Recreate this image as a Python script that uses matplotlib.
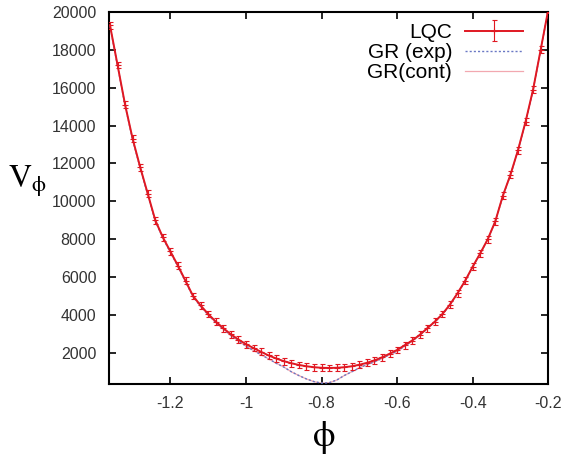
import matplotlib
matplotlib.use("Agg")
import matplotlib.pyplot as plt
import numpy as np

plt.rcParams["font.family"] = ["Liberation Sans", "DejaVu Sans"]
plt.rcParams["mathtext.fontset"] = "stix"

# phi grid (step 0.02) and potential values
phi = [-1.36, -1.34, -1.32, -1.30, -1.28, -1.26, -1.24, -1.22, -1.20, -1.18,
       -1.16, -1.14, -1.12, -1.10, -1.08, -1.06, -1.04, -1.02, -1.00, -0.98,
       -0.96, -0.94, -0.92, -0.90, -0.88, -0.86, -0.84, -0.82, -0.80, -0.78,
       -0.76, -0.74, -0.72, -0.70, -0.68, -0.66, -0.64, -0.62, -0.60, -0.58,
       -0.56, -0.54, -0.52, -0.50, -0.48, -0.46, -0.44, -0.42, -0.40, -0.38,
       -0.36, -0.34, -0.32, -0.30, -0.28, -0.26, -0.24, -0.22, -0.20]

V_lqc = [19300, 17200, 15100, 13300, 11800, 10400, 9000, 8100, 7350, 6600,
         5800, 5000, 4500, 4050, 3650, 3300, 2980, 2700, 2460, 2250,
         2050, 1860, 1700, 1560, 1450, 1360, 1290, 1240, 1210, 1200,
         1210, 1240, 1290, 1370, 1470, 1600, 1760, 1950, 2150, 2400,
         2650, 2950, 3300, 3650, 4050, 4550, 5150, 5800, 6550, 7250,
         8000, 8950, 10300, 11400, 12700, 14200, 15900, 18000, 20100]

V_gr = [19250, 17150, 15050, 13250, 11750, 10350, 8950, 8050, 7300, 6550,
        5750, 4950, 4450, 4000, 3600, 3250, 2920, 2630, 2350, 2120,
        1900, 1680, 1450, 1250, 1000, 800, 620, 480, 400, 420,
        560, 800, 1000, 1200, 1380, 1520, 1700, 1900, 2080, 2350,
        2620, 2930, 3280, 3630, 4030, 4530, 5130, 5780, 6530, 7230,
        7980, 8930, 10280, 11380, 12680, 14180, 15880, 17980, 20080]

err = 180

fig = plt.figure(figsize=(5.64, 4.57), dpi=100)
ax = fig.add_axes([0.193, 0.160, 0.779, 0.814])

ax.plot(phi, V_gr, color="#f2a8b0", lw=0.9, label="GR(cont)", zorder=2)
ax.plot(phi, V_gr, color="#6a78c4", lw=1.0, ls=(0, (1.5, 1.5)), label="GR (exp)", zorder=3)
ax.errorbar(phi, V_lqc, yerr=err, color="#e01822", lw=1.4, elinewidth=0.8,
            capsize=1.8, capthick=0.8, marker="+", ms=5, mew=0.8,
            label="LQC", zorder=4)

ax.set_xlim(-1.363, -0.2)
ax.set_ylim(360, 20000)
ax.set_xticks([-1.2, -1, -0.8, -0.6, -0.4, -0.2])
ax.set_xticklabels(["-1.2", "-1", "-0.8", "-0.6", "-0.4", "-0.2"])
ax.set_yticks(np.arange(2000, 20001, 2000))

ax.tick_params(direction="in", length=5, width=1.2, top=True, right=True,
               labelsize=11.5, labelcolor="#333333", pad=9)
for s in ax.spines.values():
    s.set_linewidth(1.5)

h, l = ax.get_legend_handles_labels()
order = [2, 1, 0]
ax.legend([h[i] for i in order], [l[i] for i in order], loc="upper right",
          bbox_to_anchor=(0.985, 1.02), frameon=False, markerfirst=False,
          fontsize=15, handlelength=2.8, labelspacing=0.05, handletextpad=0.6)

fig.text(0.048, 0.603, r"$\mathrm{V}_{\mathrm{\phi}}$", fontsize=23,
         ha="center", va="center")
fig.text(0.573, 0.042, r"$\mathrm{\phi}$", fontsize=26, ha="center", va="center")

fig.savefig("out.png", dpi=100)
